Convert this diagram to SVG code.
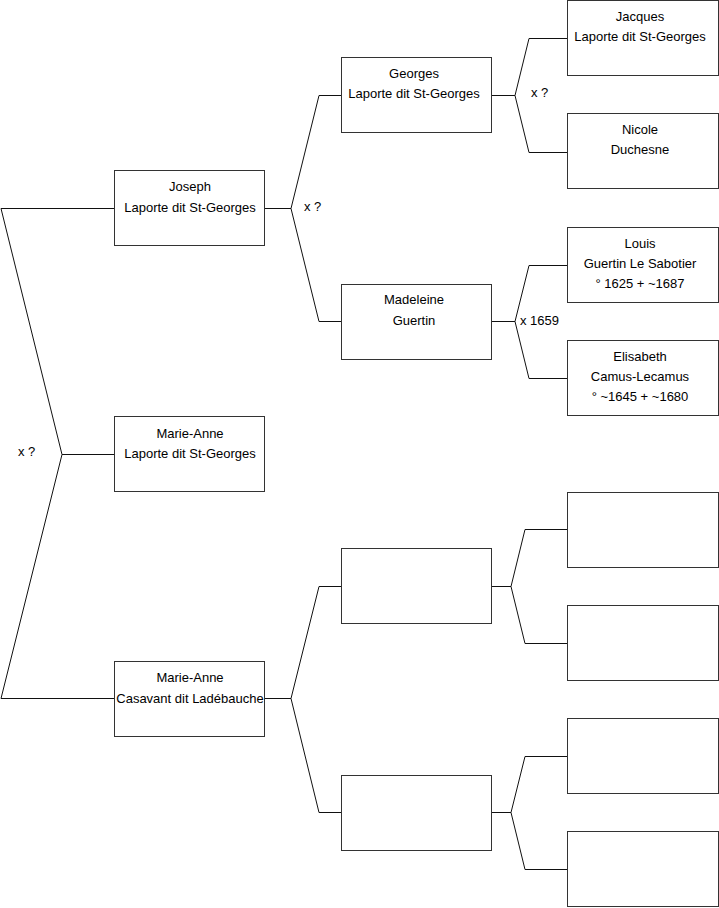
<svg xmlns="http://www.w3.org/2000/svg" width="719" height="908" viewBox="0 0 719 908">
<style>
.box{fill:#fff;stroke:#333;stroke-width:1}
.ln{fill:none;stroke:#111;stroke-width:1}
text{font-family:"Liberation Sans",Arial,sans-serif;font-size:13px;fill:#000}
.c{text-anchor:middle}
</style>
<rect width="719" height="908" fill="#fff"/>
<g id="connectors">
<path class="ln" d="M1,208.5 H114 M1,208.5 L62,454.5 L1,698.5 H114 M62,454.5 H114"/>
<path class="ln" d="M265,208.5 H291 L319,95.5 H341 M291,208.5 L319,321.5 H341"/>
<path class="ln" d="M265,698.5 H291 L319,586.5 H341 M291,698.5 L319,812.5 H341"/>
<path class="ln" d="M492,95.5 H515 L529,38.5 H567 M515,95.5 L529,152.5 H567"/>
<path class="ln" d="M492,321.5 H515 L529,265.5 H567 M515,321.5 L529,378.5 H567"/>
<path class="ln" d="M492,586.5 H511 L525,529.5 H567 M511,586.5 L525,643.5 H567"/>
<path class="ln" d="M492,812.5 H511 L525,756.5 H567 M511,812.5 L525,869.5 H567"/>
<text x="18" y="456">x ?</text>
<text x="304" y="211">x ?</text>
<text x="531" y="97">x ?</text>
<text x="520" y="325">x 1659</text>
</g>
<g id="joseph"><rect class="box" x="114.5" y="170.5" width="150" height="75"/><text class="c" x="190" y="191">Joseph</text><text class="c" x="190" y="212">Laporte dit St-Georges</text></g>
<g id="marie-anne-laporte"><rect class="box" x="114.5" y="416.5" width="150" height="75"/><text class="c" x="190" y="438">Marie-Anne</text><text class="c" x="190" y="458">Laporte dit St-Georges</text></g>
<g id="marie-anne-casavant"><rect class="box" x="114.5" y="661.5" width="150" height="75"/><text class="c" x="190" y="682">Marie-Anne</text><text class="c" x="190" y="703">Casavant dit Ladébauche</text></g>
<g id="georges"><rect class="box" x="341.5" y="57.5" width="150" height="75"/><text class="c" x="414" y="78">Georges</text><text class="c" x="414" y="98">Laporte dit St-Georges</text></g>
<g id="madeleine"><rect class="box" x="341.5" y="284.5" width="150" height="75"/><text class="c" x="414" y="304">Madeleine</text><text class="c" x="414" y="325">Guertin</text></g>
<g id="empty-f"><rect class="box" x="341.5" y="548.5" width="150" height="75"/></g>
<g id="empty-m"><rect class="box" x="341.5" y="775.5" width="150" height="75"/></g>
<g id="jacques"><rect class="box" x="567.5" y="0.5" width="151" height="75"/><text class="c" x="640" y="21">Jacques</text><text class="c" x="640" y="41">Laporte dit St-Georges</text></g>
<g id="nicole"><rect class="box" x="567.5" y="113.5" width="151" height="75"/><text class="c" x="640" y="134">Nicole</text><text class="c" x="640" y="154">Duchesne</text></g>
<g id="louis"><rect class="box" x="567.5" y="227.5" width="151" height="75"/><text class="c" x="640" y="248">Louis</text><text class="c" x="640" y="268">Guertin Le Sabotier</text><text class="c" x="640" y="288">° 1625 + ~1687</text></g>
<g id="elisabeth"><rect class="box" x="567.5" y="340.5" width="151" height="75"/><text class="c" x="640" y="361">Elisabeth</text><text class="c" x="640" y="381">Camus-Lecamus</text><text class="c" x="640" y="401">° ~1645 + ~1680</text></g>
<g id="empty-ff"><rect class="box" x="567.5" y="492.5" width="151" height="75"/></g>
<g id="empty-fm"><rect class="box" x="567.5" y="605.5" width="151" height="75"/></g>
<g id="empty-mf"><rect class="box" x="567.5" y="718.5" width="151" height="75"/></g>
<g id="empty-mm"><rect class="box" x="567.5" y="831.5" width="151" height="75"/></g>
</svg>
